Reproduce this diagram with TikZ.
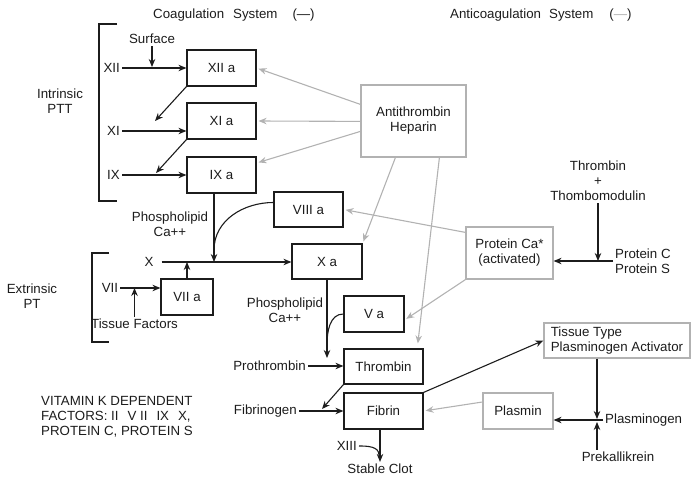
\documentclass[tikz,border=0pt]{standalone}
\usepackage{fontspec}
\setmainfont{Liberation Sans}
\usetikzlibrary{arrows.meta,calc}
\definecolor{antigray}{RGB}{178,178,178}
\definecolor{ink}{RGB}{28,28,28}

\begin{document}
\begin{tikzpicture}[x=1pt,y=-1pt,
  every node/.style={font=\fontsize{13.3}{15}\selectfont,inner sep=2pt,text=ink},
  box/.style={draw=ink,line width=1.2pt,minimum height=36pt,inner sep=0pt},
  graybox/.style={draw=antigray,line width=1.2pt,minimum height=36pt,inner sep=0pt},
  joinline/.style={draw=ink,line width=1.1pt},
  conn/.style={joinline,-{Stealth[length=8pt,width=6.5pt]}},
  anticonn/.style={draw=antigray,line width=1.1pt,shorten >=2pt,-{Stealth[length=8pt,width=6.5pt]}}]
\useasboundingbox (0,0) rectangle (691,478);
\node[anchor=west] (coag) at (151,15) {Coagulation\hspace{9pt}System\hspace{15pt}(—)};
\node[anchor=west] (anti) at (448,15) {Anticoagulation\hspace{8pt}System\hspace{16pt}(\textcolor{antigray}{—})};
\draw[joinline] (117,24) -- (99,24) -- (99,201) -- (117,201);
\draw[joinline] (109,253) -- (92,253) -- (92,342) -- (109,342);
\node[align=center] (intr) at (60,101) {Intrinsic\\PTT};
\node[align=center] (extr) at (32,296) {Extrinsic\\PT};
\node[box,minimum width=69pt] (xiia) at (221.5,68) {XII a};
\node[box,minimum width=69pt] (xia) at (221.5,121) {XI a};
\node[box,minimum width=69pt] (ixa) at (221.5,175) {IX a};
\node[box,minimum width=69pt,minimum height=35pt] (viiia) at (308.5,209.5) {VIII a};
\node[box,minimum width=70pt,minimum height=35pt] (xa) at (327,261.5) {X a};
\node[box,minimum width=52pt] (viia) at (187,297) {VII a};
\node[box,minimum width=60pt] (va) at (374,314) {V a};
\node[box,minimum width=79pt,minimum height=35pt] (thr) at (383.5,366.5) {Thrombin};
\node[box,minimum width=79pt] (fib) at (383.5,411) {Fibrin};
\node[graybox,minimum width=105pt,minimum height=72pt,align=center] (athr) at (413.5,121) {Antithrombin\\Heparin};
\node[graybox,minimum width=87pt,minimum height=52pt,align=center] (pca) at (509.5,253) {Protein Ca*\\(activated)};
\node[graybox,minimum width=146pt,minimum height=35pt,align=left] (tpa) at (617,340.5) {Tissue Type\\Plasminogen Activator};
\node[graybox,minimum width=70pt] (plm) at (518,411) {Plasmin};
\node (surf) at (152,39) {Surface};
\node[anchor=east] (xii) at (122,68) {XII};
\node[anchor=east] (xi) at (122,131) {XI};
\node[anchor=east] (ix) at (122,175) {IX};
\coordinate (surfj) at (152,68);
\coordinate (xij) at (155,121);
\coordinate (ixj) at (156,173);
\draw[conn,shorten >=1pt] (surf) -- (surfj);
\draw[conn] (xii) -- (xiia);
\draw[conn] (xi) -- (xi -| xia.west);
\draw[conn] (ix) -- (ixa);
\draw[conn] (xiia.south west) -- (xij);
\draw[conn] (xia.south west) -- (ixj);
\node (xl) at (149,262) {X};
\node (vii) at (110,288) {VII};
\node (tf) at (134.5,324) {Tissue Factors};
\coordinate (xj) at (214,262);
\coordinate (viiij) at (214,250);
\draw[conn,shorten <=6pt] (xl.east) -- (xl.east -| xa.west);
\draw[conn] (xj |- ixa.south) -- (xj);
\draw[joinline] ($(viiia.west)+(0,-7)$) to[out=180,in=90] (viiij);
\draw[conn] (vii) -- (vii -| viia.west);
\draw[conn] (viia) -- (viia |- xl);
\draw[conn] (tf) -- (tf |- vii);
\node[align=center] (phos1) at (170,224) {Phospholipid\\Ca++};
\node[align=center] (phos2) at (285,310) {Phospholipid\\Ca++};
\node[anchor=east] (proth) at (308,366) {Prothrombin};
\node[anchor=east] (fbg) at (299,411) {Fibrinogen};
\node[anchor=east] (xiii) at (359,446) {XIII};
\node (clot) at (380,469) {Stable Clot};
\coordinate (vaj) at (327,345);
\coordinate (fibj) at (322,409);
\coordinate (xiiij) at (379,455);
\draw[conn,shorten >=8pt] (xa) -- (xa |- proth);
\draw[joinline] (va.west) to[out=180,in=90] (vaj);
\draw[conn] (proth) -- (proth -| thr.west);
\draw[conn] (thr.south west) -- (fibj);
\draw[conn] (fbg) -- (fbg -| fib.west);
\draw[conn] (clot |- fib.south) -- (clot);
\draw[joinline] (xiii.east) to[out=0,in=90] (xiiij);
\draw[anticonn] ($(athr.north west)+(0,20)$) -- (xiia.east);
\draw[anticonn] ($(athr.north west)+(0,37)$) -- (xia.east);
\draw[anticonn] ($(athr.north west)+(0,47)$) -- ($(ixa.east)+(0,-12)$);
\draw[anticonn] ($(athr.south west)+(35,0)$) -- (xa.north east);
\draw[anticonn] ($(athr.south west)+(79,0)$) -- ($(thr.north east)+(-6,-3)$);
\draw[anticonn] ($(pca.north west)+(0,6)$) -- (viiia.east);
\draw[anticonn] (pca.south west) -- ($(va.east)+(0,6)$);
\node[align=center] (tm) at (598,181) {Thrombin\\+\\Thombomodulin};
\node[anchor=west,align=left] (pcs) at (613,261) {Protein C\\Protein S};
\draw[conn] (tm) -- (tm |- pcs.west);
\draw[conn] (pcs.west) -- (pcs.west -| pca.east);
\node[anchor=west] (plg) at (603,420) {Plasminogen};
\node (pkk) at (618,457) {Prekallikrein};
\coordinate (plgj) at (597,420);
\draw[conn] (fib.north east) -- (tpa.west);
\draw[conn] (plg.west) -- (plg.west -| plm.east);
\draw[conn,shorten >=1pt] (tpa.south -| plgj) -- (plgj);
\draw[conn,shorten >=2pt] (pkk.north -| plgj) -- (plgj);
\draw[anticonn] ($(plm.west)+(0,-9)$) -- (fib.east);
\node[anchor=west,align=left] (vitk) at (39,417) {VITAMIN K DEPENDENT\\FACTORS: II\hspace{9pt}V II\hspace{9pt}IX\hspace{9pt}X,\\PROTEIN C, PROTEIN S};
\end{tikzpicture}
\end{document}
